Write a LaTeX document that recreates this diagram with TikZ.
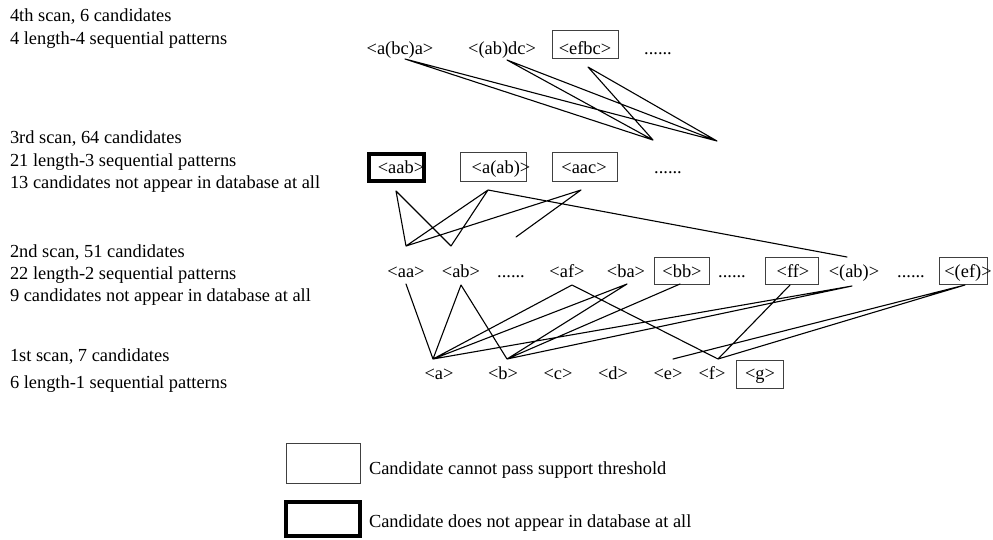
\documentclass[tikz,border=0pt]{standalone}
\usepackage{fontspec}
\setmainfont{Liberation Serif}
\begin{document}
\begin{tikzpicture}[x=1pt,y=-1pt,
  every node/.style={inner sep=0pt, outer sep=0pt, font=\fontsize{18.4}{23}\selectfont},
  lbl/.style={anchor=base west},
  item/.style={anchor=base},
  thinbox/.style={draw=black!75, line width=1pt},
  thickbox/.style={draw=black, line width=4pt},
  conn/.style={line width=1.1pt, line cap=round, line join=round}]
\useasboundingbox (0,0) rectangle (993,539);

% ---------- left labels ----------
\node[lbl] (l4a) at (10,21)  {4th scan, 6 candidates};
\node[lbl] (l4b) at (10,44)  {4 length-4 sequential patterns};
\node[lbl] (l3a) at (10,143) {3rd scan, 64 candidates};
\node[lbl] (l3b) at (10,166) {21 length-3 sequential patterns};
\node[lbl] (l3c) at (10,188) {13 candidates not appear in database at all};
\node[lbl] (l2a) at (10,257) {2nd scan, 51 candidates};
\node[lbl] (l2b) at (10,279) {22 length-2 sequential patterns};
\node[lbl] (l2c) at (10,301) {9 candidates not appear in database at all};
\node[lbl] (l1a) at (10,361) {1st scan, 7 candidates};
\node[lbl] (l1b) at (10,388) {6 length-1 sequential patterns};

% ---------- boxes ----------
\node[thinbox, minimum width=66pt, minimum height=28pt] (bx4c) at (585,44) {};
\node[thickbox, minimum width=55pt, minimum height=27pt] (bx3a) at (396.5,167.5) {};
\node[thinbox, minimum width=66pt, minimum height=29pt] (bx3b) at (493,166.5) {};
\node[thinbox, minimum width=65pt, minimum height=29pt] (bx3c) at (584.5,166.5) {};
\node[thinbox, minimum width=55pt, minimum height=27pt] (bxbb) at (681.5,270.5) {};
\node[thinbox, minimum width=53pt, minimum height=27pt] (bxff) at (791.5,270.5) {};
\node[thinbox, minimum width=48pt, minimum height=27pt] (bxef) at (963,270.5) {};
\node[thinbox, minimum width=47pt, minimum height=28pt] (bxg)  at (759.5,374) {};

% ---------- row 4 ----------
\node[item] (r4a) at (400,54) {<a(bc)a>};
\node[item] (r4b) at (502,54) {<(ab)dc>};
\node[item] (r4c) at (585,54) {<efbc>};
\node[item] (r4d) at (658,54) {......};

% ---------- row 3 ----------
\node[item] (r3a) at (401,173) {<aab>};
\node[item] (r3b) at (501,173) {<a(ab)>};
\node[item] (r3c) at (584,173) {<aac>};
\node[item] (r3d) at (668,173) {......};

% ---------- row 2 ----------
\node[item] (aa)  at (406,277) {<aa>};
\node[item] (ab)  at (461,277) {<ab>};
\node[item] (d2a) at (511,277) {......};
\node[item] (af)  at (567,277) {<af>};
\node[item] (ba)  at (626,277) {<ba>};
\node[item] (bb)  at (682,277) {<bb>};
\node[item] (d2b) at (732,277) {......};
\node[item] (ff)  at (793,277) {<ff>};
\node[item] (abp) at (854,277) {<(ab)>};
\node[item] (d2c) at (911,277) {......};
\node[item] (efp) at (968,277) {<(ef)>};

% ---------- row 1 ----------
\node[item] (a) at (439,379) {<a>};
\node[item] (b) at (503,379) {<b>};
\node[item] (c) at (558,379) {<c>};
\node[item] (d) at (613,379) {<d>};
\node[item] (e) at (668,379) {<e>};
\node[item] (f) at (712,379) {<f>};
\node[item] (g) at (760,379) {<g>};

% ---------- attachment points ----------
\coordinate (A1) at (405,59);
\coordinate (A2) at (507,60);
\coordinate (A3) at (588,67);
\coordinate (P1) at (653,140);
\coordinate (P2) at (717,141);

\coordinate (B1) at (396,191);
\coordinate (B2) at (488,190);
\coordinate (B3) at (581,190);
\coordinate (C1) at (406,246);
\coordinate (C2) at (451,246);
\coordinate (D1) at (516,237);
\coordinate (E1) at (847,257);

\coordinate (aaB) at (406,284);
\coordinate (abB) at (461,285);
\coordinate (afB) at (572,285);
\coordinate (baB) at (627,284);
\coordinate (bbB) at (680,284);
\coordinate (ffB) at (790,285);
\coordinate (abpB) at (852,286);
\coordinate (efpB) at (965,285);

\coordinate (aT) at (433,359);
\coordinate (bT) at (507,359);
\coordinate (eT) at (673,359);
\coordinate (fT) at (718,359);

% ---------- connectors ----------
\draw[conn] (A1) -- (P1) (A1) -- (P2)
            (A2) -- (P1) (A2) -- (P2)
            (A3) -- (P1) (A3) -- (P2);

\draw[conn] (B1) -- (C1) (B1) -- (C2)
            (B2) -- (C1) (B2) -- (C2) (B2) -- (E1)
            (B3) -- (C1) (B3) -- (D1);

\draw[conn] (aaB) -- (aT)
            (abB) -- (aT) (abB) -- (bT)
            (afB) -- (aT) (afB) -- (fT)
            (baB) -- (aT) (baB) -- (bT)
            (bbB) -- (bT)
            (ffB) -- (fT)
            (abpB) -- (aT) (abpB) -- (bT)
            (efpB) -- (fT) (efpB) -- (eT);

% ---------- legend ----------
\node[thinbox, minimum width=74pt, minimum height=40pt] (lg1) at (323,463) {};
\node[thickbox, minimum width=74pt, minimum height=34pt] (lg2) at (323,519) {};
\node[lbl] (lt1) at (369,474) {Candidate cannot pass support threshold};
\node[lbl] (lt2) at (369,527) {Candidate does not appear in database at all};
\end{tikzpicture}
\end{document}
